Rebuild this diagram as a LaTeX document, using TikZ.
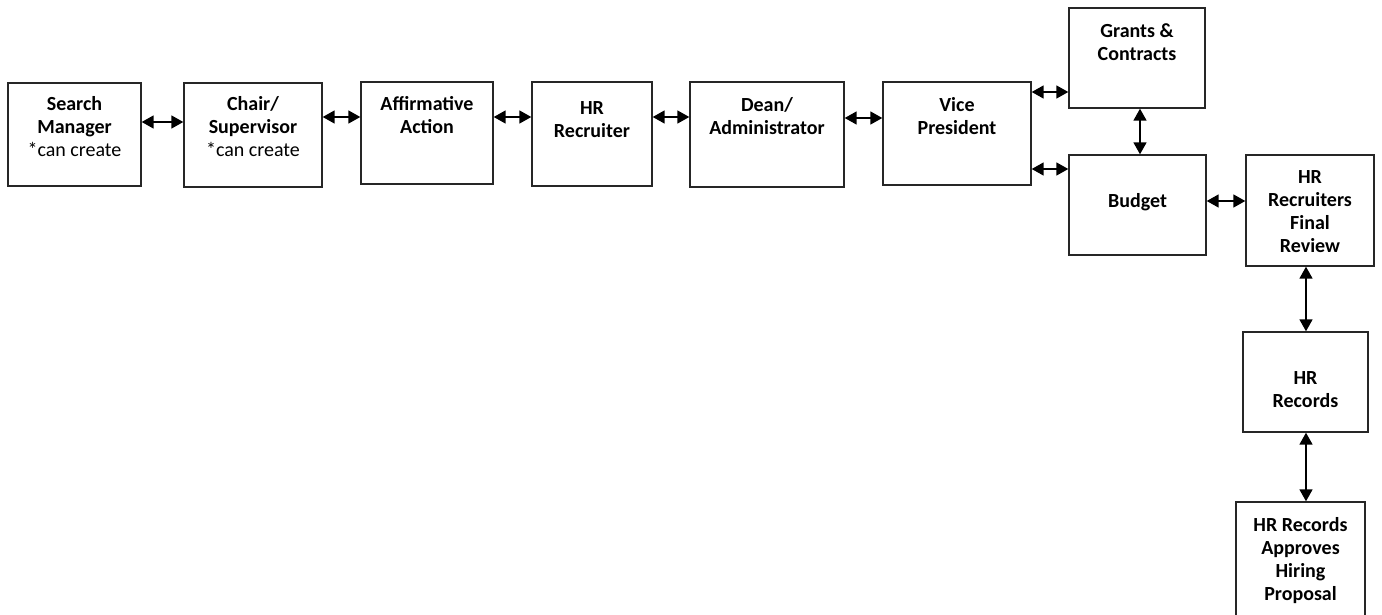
\documentclass[tikz,border=0pt]{standalone}
\usepackage{fontspec}
\setmainfont{Carlito}
\usetikzlibrary{arrows.meta}
\tikzset{
  box/.style={draw=black!85, line width=1.4pt, rectangle, inner sep=0pt},
  lbl/.style={anchor=north, inner sep=0pt, align=center, font=\fontsize{20}{23}\selectfont\bfseries},
  arr/.style={line width=1.7pt, {Triangle[length=12pt,width=13pt]}-{Triangle[length=12pt,width=13pt]}}
}
\begin{document}
\begin{tikzpicture}[x=1pt,y=1pt]
\useasboundingbox (0,0) rectangle (1382,-615);
\clip (0,0) rectangle (1382,-615);
% boxes
\node[box, minimum width=133pt, minimum height=103pt] (sm) at (74.5,-134.5) {};
\node[box, minimum width=138pt, minimum height=104pt] (cs) at (253,-135) {};
\node[box, minimum width=132pt, minimum height=102pt] (aa) at (427,-133) {};
\node[box, minimum width=120pt, minimum height=104pt] (hr) at (592,-134) {};
\node[box, minimum width=154pt, minimum height=105pt] (da) at (767,-134.5) {};
\node[box, minimum width=148pt, minimum height=103pt] (vp) at (957,-133.5) {};
\node[box, minimum width=136pt, minimum height=100pt] (gc) at (1137,-58) {};
\node[box, minimum width=137pt, minimum height=100pt] (bu) at (1137.5,-205) {};
\node[box, minimum width=128pt, minimum height=111pt] (hf) at (1310,-210.5) {};
\node[box, minimum width=125pt, minimum height=100pt] (re) at (1305.5,-382) {};
\node[box, minimum width=129pt, minimum height=138pt] (ap) at (1300.5,-571) {};
% labels
\node[lbl] (smt) at (74.5,-96) {Search\\Manager\\{\mdseries *can create}};
\node[lbl] (cst) at (253,-96) {Chair/\\Supervisor\\{\mdseries *can create}};
\node[lbl] (aat) at (427,-96) {Affirmative\\Action};
\node[lbl] (hrt) at (592,-101) {HR\\Recruiter};
\node[lbl] (dat) at (767,-97) {Dean/\\Administrator};
\node[lbl] (vpt) at (957,-97) {Vice\\President};
\node[lbl] (gct) at (1137,-23) {Grants \&\\Contracts};
\node[lbl] (but) at (1137.5,-193) {Budget};
\node[lbl] (hft) at (1310,-170) {HR\\Recruiters\\Final\\Review};
\node[lbl] (ret) at (1305.5,-371) {HR\\Records};
\node[lbl] (apt) at (1300.5,-517) {HR Records\\Approves\\Hiring\\Proposal};
% connectors
\draw[arr] (sm.east |- 0,-122) -- (cs.west |- 0,-122);
\draw[arr] (cs.east |- 0,-117) -- (aa.west |- 0,-117);
\draw[arr] (aa.east |- 0,-117) -- (hr.west |- 0,-117);
\draw[arr] (hr.east |- 0,-117) -- (da.west |- 0,-117);
\draw[arr] (da.east |- 0,-118) -- (vp.west |- 0,-118);
\draw[arr] (vp.east |- 0,-92) -- (gc.west |- 0,-92);
\draw[arr] (vp.east |- 0,-169) -- (bu.west |- 0,-169);
\draw[arr] (gc.south -| 1140,0) -- (bu.north -| 1140,0);
\draw[arr] (bu.east |- 0,-201) -- (hf.west |- 0,-201);
\draw[arr] (hf.south -| 1306,0) -- (re.north -| 1306,0);
\draw[arr] (re.south -| 1306,0) -- (ap.north -| 1306,0);
\end{tikzpicture}
\end{document}
